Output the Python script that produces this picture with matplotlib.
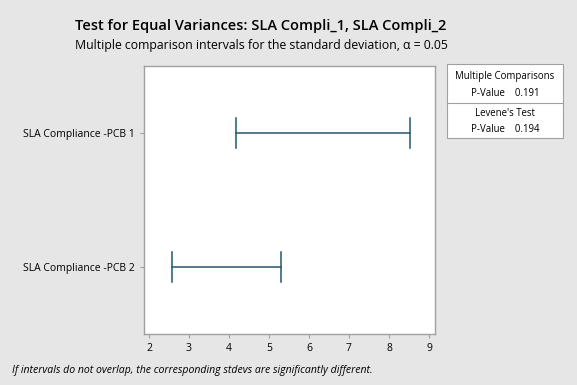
import matplotlib
matplotlib.use("Agg")
import matplotlib.pyplot as plt
from matplotlib.patches import Rectangle
from matplotlib.lines import Line2D

categories = ["SLA Compliance -PCB 1", "SLA Compliance -PCB 2"]
lower = [4.17, 2.58]
upper = [8.53, 5.29]
xticks = [2, 3, 4, 5, 6, 7, 8, 9]
mc_pvalue = "0.191"
lev_pvalue = "0.194"

plt.rcParams['font.family'] = ['Open Sans', 'DejaVu Sans']

W, H = 577, 385
fig = plt.figure(figsize=(W/100, H/100), dpi=100)
bg = "#E6E6E6"
fig.patch.set_facecolor(bg)

def fx(px): return px / W
def fy(py): return 1 - py / H

ax = fig.add_axes([fx(144), fy(334), fx(435) - fx(144), fy(66) - fy(334)])
ax.set_facecolor("white")
col = "#24566F"
ypos = [1, 2]
for y, lo, hi in zip(ypos, lower, upper):
    ax.plot([lo, hi], [y, y], color=col, lw=1.1)
    ax.plot([lo, lo], [y - 0.115, y + 0.115], color=col, lw=1.1)
    ax.plot([hi, hi], [y - 0.115, y + 0.115], color=col, lw=1.1)

ax.set_xlim(1.875, 9.15)
ax.set_ylim(2.5, 0.5)
ax.set_xticks(xticks)
ax.set_xticklabels([str(t) for t in xticks])
ax.set_yticks(ypos)
ax.set_yticklabels(categories)
for s in ax.spines.values():
    s.set_color("#A0A0A0")
    s.set_linewidth(1.0)
ax.tick_params(axis='both', colors="#A0A0A0", labelcolor="black", labelsize=7.5, length=3, width=0.8)
ax.tick_params(axis='y', pad=4)

tcx = fx(261)
fig.text(tcx, fy(26), "Test for Equal Variances: SLA Compli_1, SLA Compli_2",
         ha='center', va='center', fontsize=10.5, fontweight='semibold')
fig.text(tcx, fy(45), "Multiple comparison intervals for the standard deviation, \u03b1 = 0.05",
         ha='center', va='center', fontsize=8.8)
fig.text(fx(12), fy(370), "If intervals do not overlap, the corresponding stdevs are significantly different.",
         ha='left', va='center', fontsize=7.6, style='italic')

# stats box
bx0, bx1, by0, by1, bdiv = 447, 563, 64, 138, 103
fig.patches.append(Rectangle((fx(bx0), fy(by1)), fx(bx1) - fx(bx0), fy(by0) - fy(by1),
                             transform=fig.transFigure, facecolor="white", edgecolor="#A0A0A0", lw=0.8))
fig.lines.append(Line2D([fx(bx0), fx(bx1)], [fy(bdiv), fy(bdiv)], transform=fig.transFigure,
                        color="#A0A0A0", lw=0.8))
cx = (bx0 + bx1) / 2
fs = 6.9
fig.text(fx(cx), fy(77), "Multiple Comparisons", ha='center', va='center', fontsize=fs)
fig.text(fx(cx), fy(94), f"P-Value    {mc_pvalue}", ha='center', va='center', fontsize=fs)
fig.text(fx(cx), fy(113), "Levene's Test", ha='center', va='center', fontsize=fs)
fig.text(fx(cx), fy(130), f"P-Value    {lev_pvalue}", ha='center', va='center', fontsize=fs)

fig.savefig("out.png", dpi=100, facecolor=bg)
